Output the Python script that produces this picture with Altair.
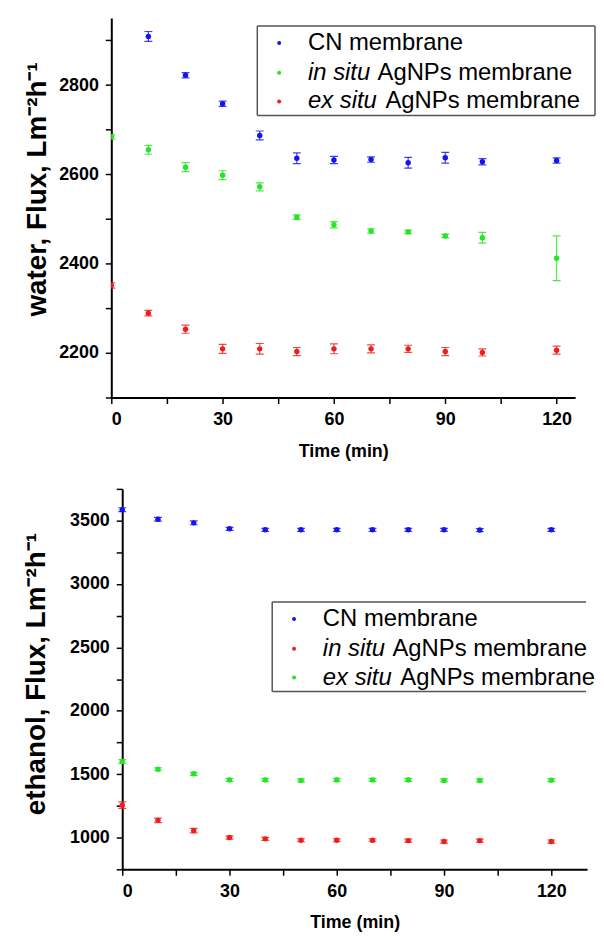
import altair as alt
import pandas as pd

# ---------------- data ----------------
TIME = [0, 10, 20, 30, 40, 50, 60, 70, 80, 90, 100, 120]

SERIES = ["CN", "in situ", "ex situ"]

# water panel
WATER_CN = [None, 2909, 2822, 2758, 2687, 2636, 2632, 2633, 2626, 2637, 2628, 2631]
WATER_CN_ERR = [None, 11, 6, 6, 10, 12, 8, 6, 12, 12, 7, 6]
WATER_IN = [2684, 2655, 2616, 2598, 2572, 2504, 2487, 2473, 2471, 2462, 2458, 2412]
WATER_IN_ERR = [5, 10, 10, 10, 9, 5, 7, 5, 4, 4, 12, 50]
WATER_EX = [2351, 2289, 2253, 2209, 2209, 2203, 2209, 2209, 2209, 2203, 2201, 2206]
WATER_EX_ERR = [6, 6, 9, 10, 12, 9, 11, 9, 8, 9, 8, 9]

# ethanol panel
ETH_CN = [3586, 3510, 3482, 3435, 3427, 3427, 3427, 3427, 3427, 3427, 3425, 3427]
ETH_CN_ERR = [15, 15, 15, 12, 12, 12, 12, 12, 12, 12, 12, 12]
ETH_IN = [1256, 1136, 1055, 1000, 990, 979, 979, 979, 976, 969, 976, 969]
ETH_IN_ERR = [25, 18, 18, 12, 12, 12, 12, 12, 12, 12, 12, 12]
ETH_EX = [1600, 1539, 1503, 1455, 1455, 1451, 1455, 1455, 1455, 1451, 1451, 1453]
ETH_EX_ERR = [15, 12, 12, 12, 12, 12, 12, 12, 12, 12, 12, 12]

LEGEND_ITALIC = ["", "in situ ", "ex situ "]
LEGEND_REGULAR = ["CN membrane", "AgNPs membrane", "AgNPs membrane"]

WATER_TITLE = "water, Flux, Lm\u207b\u00b2h\u207b\u00b9"
ETH_TITLE = "ethanol, Flux, Lm\u207b\u00b2h\u207b\u00b9"
X_TITLE = "Time (min)"

BLUE = "#1414f0"
GREEN = "#22e622"
RED = "#ee1e1e"
FONT = "Liberation Sans"


def frame(triples):
    rows = []
    for name, vals, errs in triples:
        for t, v, e in zip(TIME, vals, errs):
            if v is None:
                continue
            rows.append({"time": t, "flux": v, "lo": v - e, "hi": v + e, "series": name})
    return pd.DataFrame(rows)


water_df = frame([("CN", WATER_CN, WATER_CN_ERR), ("in situ", WATER_IN, WATER_IN_ERR),
                  ("ex situ", WATER_EX, WATER_EX_ERR)])
eth_df = frame([("CN", ETH_CN, ETH_CN_ERR), ("in situ", ETH_IN, ETH_IN_ERR),
                ("ex situ", ETH_EX, ETH_EX_ERR)])

one = pd.DataFrame({"k": [0]})


def hline(x0, x1, y):
    return alt.Chart(one).mark_rule(color="#555555", strokeWidth=1.5).encode(
        x=alt.value(x0), x2=alt.value(x1), y=alt.value(y))


def vline(x, y0, y1):
    return alt.Chart(one).mark_rule(color="#555555", strokeWidth=1.5).encode(
        x=alt.value(x), y=alt.value(y0), y2=alt.value(y1))


def panel(df, colors, xdom, xrange, width, ydom, yvals, ystep, height, ytitle,
          title_pad, title_y, y_offset, leg):
    color = alt.Color("series:N", scale=alt.Scale(domain=SERIES, range=colors), legend=None)
    xaxis = alt.Axis(values=list(range(0, xdom[1] + 1, 15)),
                     labelExpr="datum.value % 30 == 0 ? datum.label : ''",
                     title=X_TITLE, labelPadding=7, titlePadding=14)
    x = alt.X("time:Q", scale=alt.Scale(domain=xdom, range=xrange, nice=False, zero=False),
              axis=xaxis)
    yaxis = alt.Axis(values=yvals, format="d",
                     labelExpr="datum.value %% %d == 0 ? datum.label : ''" % ystep,
                     title=ytitle, titlePadding=title_pad, labelPadding=7, offset=y_offset,
                     titleFontSize=28, titleY=title_y)

    def Y(field):
        return alt.Y(field + ":Q", scale=alt.Scale(domain=ydom, nice=False, zero=False),
                     axis=yaxis, title=ytitle)

    base = alt.Chart(df)
    rules = base.mark_rule(clip=True, strokeWidth=1.2, opacity=0.8).encode(
        x=x, y=Y("lo"), y2="hi:Q", color=color)
    cap_lo = base.mark_tick(clip=True, orient="horizontal", size=8, thickness=1.2,
                            opacity=0.8).encode(x=x, y=Y("lo"), color=color)
    cap_hi = base.mark_tick(clip=True, orient="horizontal", size=8, thickness=1.2,
                            opacity=0.8).encode(x=x, y=Y("hi"), color=color)
    pts = base.mark_circle(clip=True, size=30, opacity=1).encode(x=x, y=Y("flux"), color=color)

    layers = [rules, cap_lo, cap_hi, pts]
    # legend drawn inside the plot
    bx0, bx1, by0, by1, right_side, sx, tx, rows, offs = leg
    layers += [hline(bx0, bx1, by0), hline(bx0, bx1, by1), vline(bx0, by0, by1)]
    if right_side:
        layers.append(vline(bx1, by0, by1))
    for i in range(3):
        layers.append(alt.Chart(one).mark_circle(size=16, opacity=1).encode(
            x=alt.value(sx), y=alt.value(rows[i]), color=alt.value(colors[i])))
        if LEGEND_ITALIC[i]:
            layers.append(alt.Chart(one).mark_text(
                align="left", baseline="middle", font=FONT, fontSize=24, fontStyle="italic",
                text=LEGEND_ITALIC[i]).encode(x=alt.value(tx), y=alt.value(rows[i])))
        layers.append(alt.Chart(one).mark_text(
            align="left", baseline="middle", font=FONT, fontSize=24,
            text=LEGEND_REGULAR[i]).encode(x=alt.value(tx + offs[i]), y=alt.value(rows[i])))
    return alt.layer(*layers).properties(width=width, height=height)


top = panel(water_df, [BLUE, GREEN, RED], [0, 125], [0, 467], 467,
            [2100, 2950], list(range(2100, 2901, 100)), 200, 382, WATER_TITLE, 7, 172, 0,
            (147, 487, 8, 98, True, 169, 198, [25, 55, 84], [0, 70, 78]))

bottom = panel(eth_df, [BLUE, RED, GREEN], [0, 130], [11, 479], 479,
               [750, 3750], list(range(750, 3751, 250)), 500, 383, ETH_TITLE, 19, 186, -11,
               (162, 478, 114, 204, False, 184, 213, [131, 161, 190], [0, 70, 78]))

chart = alt.vconcat(top, bottom, spacing=92, bounds="flush").resolve_scale(
    color="independent"
).properties(
    padding={"left": 14, "top": 7, "right": 0, "bottom": 0}
).configure_view(stroke=None).configure_axis(
    grid=False, domainColor="black", domainWidth=2, tickColor="black", tickWidth=1.5,
    tickSize=6, labelFont=FONT, labelFontSize=18, labelFontWeight="bold", labelColor="black",
    titleFont=FONT, titleFontSize=18, titleFontWeight="bold", titleColor="black"
)

chart.save("out.html", embed_options={"renderer": "svg", "actions": False})
